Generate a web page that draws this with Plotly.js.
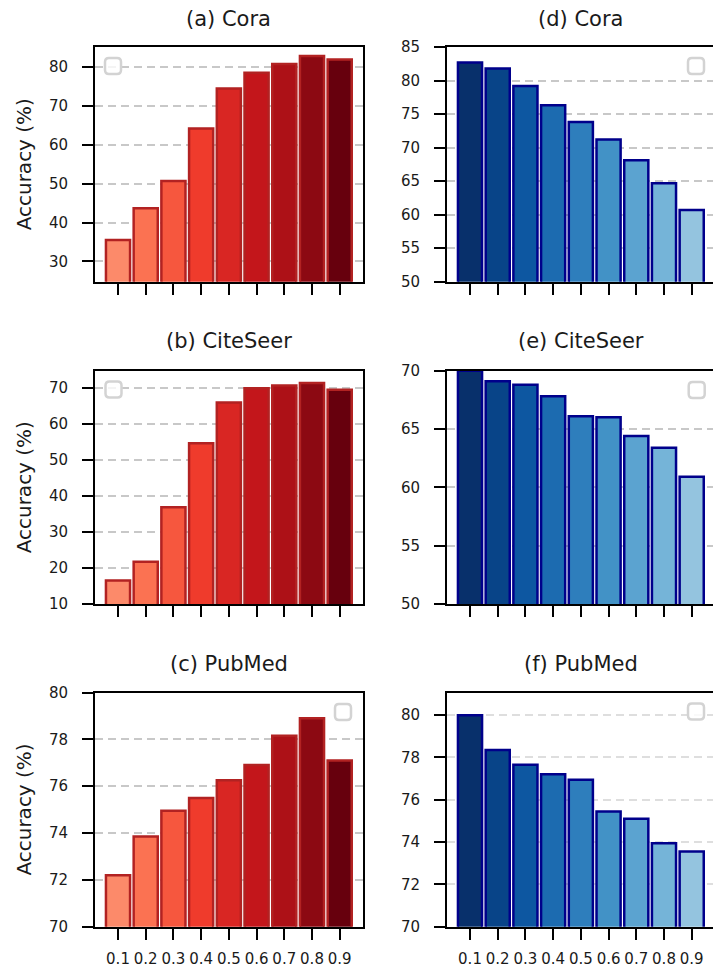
<!DOCTYPE html>
<html><head><meta charset="utf-8">
<script src="https://cdn.plot.ly/plotly-3.0.1.min.js"></script>
<style>html,body{margin:0;padding:0;overflow:hidden;background:#fff}#chart{width:716px;height:970px}</style>
</head><body><div id="chart"></div>
<script>
// ---------- data ----------
const ratios = ['0.1','0.2','0.3','0.4','0.5','0.6','0.7','0.8','0.9'];
const coraRed      = [35.5, 43.7, 50.7, 64.2, 74.5, 78.6, 80.8, 82.9, 82.0];
const citeseerRed  = [16.5, 21.7, 36.8, 54.6, 65.9, 69.8, 70.6, 71.3, 69.4];
const pubmedRed    = [72.2, 73.85, 74.95, 75.5, 76.25, 76.9, 78.15, 78.9, 77.1];
const coraBlue     = [82.7, 81.8, 79.2, 76.3, 73.8, 71.2, 68.1, 64.7, 60.7];
const citeseerBlue = [70.0, 69.1, 68.8, 67.8, 66.1, 66.0, 64.4, 63.4, 60.9];
const pubmedBlue   = [80.0, 78.35, 77.65, 77.2, 76.95, 75.45, 75.1, 73.95, 73.55];
const panelTitles  = ['(a) Cora','(b) CiteSeer','(c) PubMed','(d) Cora','(e) CiteSeer','(f) PubMed'];
const yTickVals = [
  [30,40,50,60,70,80],
  [10,20,30,40,50,60,70],
  [70,72,74,76,78,80],
  [50,55,60,65,70,75,80,85],
  [50,55,60,65,70],
  [70,72,74,76,78,80]
];
const yLabel = 'Accuracy (%)';

// ---------- styles / geometry ----------
const W = 716, H = 970;
const redFills  = ['#fc8a6a','#fb7252','#f6573e','#ef3b2c','#d92623','#c3161b','#ad1117','#8c0912','#67000d'];
const blueFills = ['#08306b','#084488','#0d57a1','#1c6bb0','#2e7ebc','#4292c6','#5ba3d0','#75b4d8','#94c4df'];
const seriesList = [coraRed, citeseerRed, pubmedRed, coraBlue, citeseerBlue, pubmedBlue];
const yRanges = [[24.8,85.2],[10,74.7],[70,80],[50,85],[50,70],[70,81.07]];
const colX = [[95,362.7],[447,714.7]];
const rowY = [[47,281.7],[370.7,604],[692.5,926.7]];
const titleBase = [28, 350.3, 673];
const legendCenters = [[113,66],[113.5,389.5],[343,712],[696,66],[696.7,390],[696,711.5]];
const gridColors = ['#c8c8c8','#c8c8c8','#c8c8c8','#c8c8c8','#c8c8c8','#dedede'];
const FONT = 'DejaVu Sans, sans-serif';
const TICK_SIZE = 15, TITLE_SIZE = 21, LABEL_SIZE = 20;

const px = v => v / W;
const py = v => 1 - v / H;

const traces = [];
const layout = {
  width: W, height: H,
  margin: {l:0, r:0, t:0, b:0},
  paper_bgcolor: '#fff', plot_bgcolor: '#fff',
  showlegend: false,
  font: {family: FONT, size: TICK_SIZE, color: '#1a1a1a'},
  annotations: [], shapes: [],
  bargap: 0
};

for (let i = 0; i < 6; i++) {
  const col = i < 3 ? 0 : 1, row = i % 3;
  const red = col === 0;
  const sfx = i === 0 ? '' : String(i + 1);
  traces.push({
    type: 'bar',
    x: ratios,
    y: seriesList[i],
    xaxis: 'x' + sfx, yaxis: 'y' + sfx,
    width: 0.87,
    marker: {
      color: red ? redFills : blueFills,
      line: {color: red ? '#b22222' : '#00008b', width: 2.5}
    },
    hoverinfo: 'skip'
  });
  layout['xaxis' + sfx] = {
    type: 'category',
    domain: [px(colX[col][0]), px(colX[col][1])],
    anchor: 'y' + sfx,
    range: [-0.83, 8.83],
    showline: true, linecolor: '#000', linewidth: 2, mirror: true,
    ticks: 'outside', ticklen: 11, tickwidth: 2, tickcolor: '#000',
    showticklabels: row === 2,
    tickfont: {family: FONT, size: TICK_SIZE, color: '#1a1a1a'},
    ticklabelstandoff: 6,
    showgrid: false, zeroline: false, fixedrange: true
  };
  layout['yaxis' + sfx] = {
    domain: [py(rowY[row][1]), py(rowY[row][0])],
    anchor: 'x' + sfx,
    range: yRanges[i],
    tickmode: 'array', tickvals: yTickVals[i],
    showline: true, linecolor: '#000', linewidth: 2, mirror: true,
    ticks: 'outside', ticklen: 11, tickwidth: 2, tickcolor: '#000',
    tickfont: {family: FONT, size: TICK_SIZE, color: '#1a1a1a'},
    ticklabelstandoff: 11,
    showgrid: true, gridcolor: gridColors[i], gridwidth: 2, griddash: '8px,5px',
    zeroline: false, fixedrange: true
  };
  // panel title
  layout.annotations.push({
    text: panelTitles[i], xref: 'paper', yref: 'paper',
    x: px((colX[col][0] + colX[col][1]) / 2), y: py(titleBase[row] + 5),
    xanchor: 'center', yanchor: 'bottom', showarrow: false,
    font: {family: FONT, size: TITLE_SIZE, color: '#1a1a1a'}
  });
  if (red) {
    layout.annotations.push({
      text: yLabel, xref: 'paper', yref: 'paper', textangle: -90,
      x: px(24), y: py((rowY[row][0] + rowY[row][1]) / 2),
      xanchor: 'center', yanchor: 'middle', showarrow: false,
      font: {family: FONT, size: LABEL_SIZE, color: '#1a1a1a'}
    });
  }
  // empty legend frame
  const c = legendCenters[i];
  const s = 8, r = 4;
  layout.shapes.push({
    type: 'path', xref: 'paper', yref: 'paper',
    xsizemode: 'pixel', ysizemode: 'pixel',
    xanchor: px(c[0]), yanchor: py(c[1]),
    path: `M ${-s+r},${-s} L ${s-r},${-s} Q ${s},${-s} ${s},${-s+r} L ${s},${s-r} Q ${s},${s} ${s-r},${s} L ${-s+r},${s} Q ${-s},${s} ${-s},${s-r} L ${-s},${-s+r} Q ${-s},${-s} ${-s+r},${-s} Z`,
    line: {color: '#d3d3d3', width: 2.5},
    fillcolor: 'rgba(255,255,255,0.8)',
    layer: 'above'
  });
}

Plotly.newPlot('chart', traces, layout, {displayModeBar: false, staticPlot: true});
</script>
</body></html>
